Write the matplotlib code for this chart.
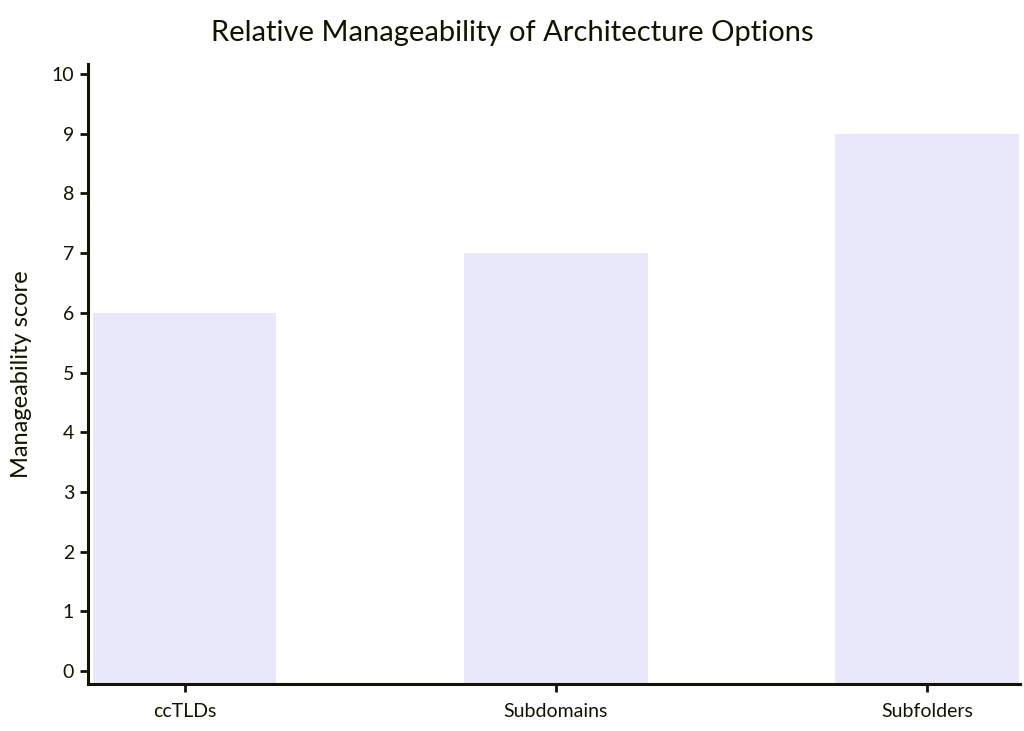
"""Bar chart: relative manageability of architecture options."""

import matplotlib

matplotlib.use("Agg")
import matplotlib.pyplot as plt

categories = ["ccTLDs", "Subdomains", "Subfolders"]
scores = [6, 7, 9]
y_ticks = list(range(0, 11))

TEXT = "#131300"
BAR = "#e8e8fa"

plt.rcParams["font.family"] = ["Lato", "DejaVu Sans"]

fig = plt.figure(figsize=(10.24, 7.31), dpi=100)
ax = fig.add_axes([88 / 1024, 1 - 684 / 731, 932 / 1024, 620 / 731])

ymin = -0.22
x = list(range(len(categories)))
ax.bar(x, [s - ymin for s in scores], bottom=ymin, width=0.495, color=BAR)

ax.set_xlim(-0.26, 2.25)
ax.set_ylim(ymin, 10.17)
ax.set_yticks(y_ticks)
ax.set_xticks(x)
ax.set_xticklabels(categories)

for side in ("top", "right"):
    ax.spines[side].set_visible(False)
for side in ("left", "bottom"):
    ax.spines[side].set_color(TEXT)
    ax.spines[side].set_linewidth(2.2)

ax.tick_params(axis="both", colors=TEXT, labelcolor=TEXT, labelsize=14,
               length=6, width=2)
ax.tick_params(axis="x", pad=8)
ax.tick_params(axis="y", pad=4)

ax.set_ylabel("Manageability score", fontsize=17, color=TEXT)
ax.yaxis.set_label_coords(-56 / 932, 0.5)
fig.suptitle("Relative Manageability of Architecture Options", fontsize=21,
             color=TEXT, y=0.973)

fig.savefig("out.png", dpi=100)
